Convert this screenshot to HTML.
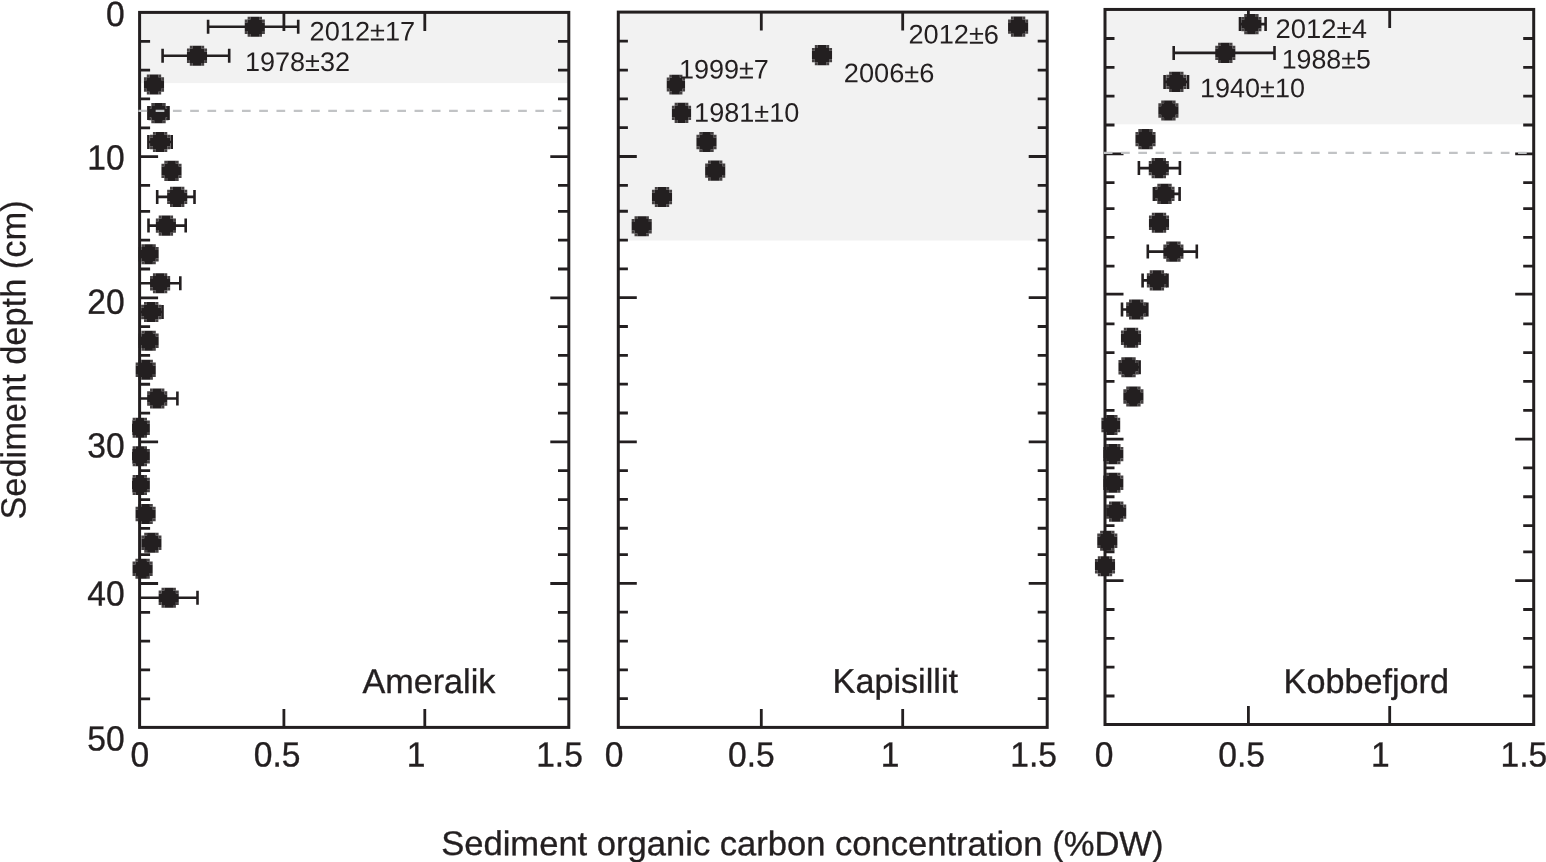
<!DOCTYPE html>
<html lang="en"><head><meta charset="utf-8">
<title>Sediment organic carbon concentration</title>
<style>
html,body{margin:0;padding:0;background:#fff;}
body{width:1546px;height:862px;overflow:hidden;}
svg{display:block;}
text{font-family:"Liberation Sans",Arial,Helvetica,sans-serif;fill:#231f20;}
.ax{font-size:35.0px;stroke:#231f20;stroke-width:0.35px;}
.nm{font-size:34.2px;stroke:#231f20;stroke-width:0.35px;}
.yt{font-size:35px;stroke:#231f20;stroke-width:0.2px;}
.an{font-size:26.8px;}
</style></head><body>
<svg width="1546" height="862" viewBox="0 0 1546 862">
<rect x="0" y="0" width="1546" height="862" fill="#fff"/>
<g>
<rect x="139.6" y="12.4" width="429.2" height="70.7" fill="#f2f2f2"/>
<path d="M247.62 16.65H250.49v2.87H247.62zM259.11 16.65H261.98v2.87H259.11zM244.75 19.52H247.62v2.87H244.75zM261.98 19.52H264.85v2.87H261.98zM244.75 31.01H247.62v2.87H244.75zM261.98 31.01H264.85v2.87H261.98zM247.62 33.88H250.49v2.87H247.62zM259.11 33.88H261.98v2.87H259.11zM189.82 45.65H192.69v2.87H189.82zM201.31 45.65H204.18v2.87H201.31zM186.95 48.52H189.82v2.87H186.95zM204.18 48.52H207.05v2.87H204.18zM186.95 60.01H189.82v2.87H186.95zM204.18 60.01H207.05v2.87H204.18zM189.82 62.88H192.69v2.87H189.82zM201.31 62.88H204.18v2.87H201.31zM146.82 74.45H149.69v2.87H146.82zM158.31 74.45H161.18v2.87H158.31zM143.95 77.32H146.82v2.87H143.95zM161.18 77.32H164.05v2.87H161.18zM143.95 88.81H146.82v2.87H143.95zM161.18 88.81H164.05v2.87H161.18zM146.82 91.68H149.69v2.87H146.82zM158.31 91.68H161.18v2.87H158.31zM151.32 103.05H154.19v2.87H151.32zM162.81 103.05H165.68v2.87H162.81zM148.45 105.92H151.32v2.87H148.45zM165.68 105.92H168.55v2.87H165.68zM148.45 117.41H151.32v2.87H148.45zM165.68 117.41H168.55v2.87H165.68zM151.32 120.28H154.19v2.87H151.32zM162.81 120.28H165.68v2.87H162.81zM152.92 131.95H155.79v2.87H152.92zM164.41 131.95H167.28v2.87H164.41zM150.05 134.82H152.92v2.87H150.05zM167.28 134.82H170.15v2.87H167.28zM150.05 146.31H152.92v2.87H150.05zM167.28 146.31H170.15v2.87H167.28zM152.92 149.18H155.79v2.87H152.92zM164.41 149.18H167.28v2.87H164.41zM164.32 160.85H167.19v2.87H164.32zM175.81 160.85H178.68v2.87H175.81zM161.45 163.72H164.32v2.87H161.45zM178.68 163.72H181.55v2.87H178.68zM161.45 175.21H164.32v2.87H161.45zM178.68 175.21H181.55v2.87H178.68zM164.32 178.08H167.19v2.87H164.32zM175.81 178.08H178.68v2.87H175.81zM170.02 186.85H172.89v2.87H170.02zM181.51 186.85H184.38v2.87H181.51zM167.15 189.72H170.02v2.87H167.15zM184.38 189.72H187.25v2.87H184.38zM167.15 201.21H170.02v2.87H167.15zM184.38 201.21H187.25v2.87H184.38zM170.02 204.08H172.89v2.87H170.02zM181.51 204.08H184.38v2.87H181.51zM158.72 215.55H161.59v2.87H158.72zM170.21 215.55H173.08v2.87H170.21zM155.85 218.42H158.72v2.87H155.85zM173.08 218.42H175.95v2.87H173.08zM155.85 229.91H158.72v2.87H155.85zM173.08 229.91H175.95v2.87H173.08zM158.72 232.78H161.59v2.87H158.72zM170.21 232.78H173.08v2.87H170.21zM141.42 244.25H144.29v2.87H141.42zM152.91 244.25H155.78v2.87H152.91zM138.55 247.12H141.42v2.87H138.55zM155.78 247.12H158.65v2.87H155.78zM138.55 258.61H141.42v2.87H138.55zM155.78 258.61H158.65v2.87H155.78zM141.42 261.48H144.29v2.87H141.42zM152.91 261.48H155.78v2.87H152.91zM152.92 273.25H155.79v2.87H152.92zM164.41 273.25H167.28v2.87H164.41zM150.05 276.12H152.92v2.87H150.05zM167.28 276.12H170.15v2.87H167.28zM150.05 287.61H152.92v2.87H150.05zM167.28 287.61H170.15v2.87H167.28zM152.92 290.48H155.79v2.87H152.92zM164.41 290.48H167.28v2.87H164.41zM144.02 301.95H146.89v2.87H144.02zM155.51 301.95H158.38v2.87H155.51zM141.15 304.82H144.02v2.87H141.15zM158.38 304.82H161.25v2.87H158.38zM141.15 316.31H144.02v2.87H141.15zM158.38 316.31H161.25v2.87H158.38zM144.02 319.18H146.89v2.87H144.02zM155.51 319.18H158.38v2.87H155.51zM141.42 330.75H144.29v2.87H141.42zM152.91 330.75H155.78v2.87H152.91zM138.55 333.62H141.42v2.87H138.55zM155.78 333.62H158.65v2.87H155.78zM138.55 345.11H141.42v2.87H138.55zM155.78 345.11H158.65v2.87H155.78zM141.42 347.98H144.29v2.87H141.42zM152.91 347.98H155.78v2.87H152.91zM138.52 359.65H141.39v2.87H138.52zM150.01 359.65H152.88v2.87H150.01zM135.65 362.52H138.52v2.87H135.65zM152.88 362.52H155.75v2.87H152.88zM135.65 374.01H138.52v2.87H135.65zM152.88 374.01H155.75v2.87H152.88zM138.52 376.88H141.39v2.87H138.52zM150.01 376.88H152.88v2.87H150.01zM150.02 388.45H152.89v2.87H150.02zM161.51 388.45H164.38v2.87H161.51zM147.15 391.32H150.02v2.87H147.15zM164.38 391.32H167.25v2.87H164.38zM147.15 402.81H150.02v2.87H147.15zM164.38 402.81H167.25v2.87H164.38zM150.02 405.68H152.89v2.87H150.02zM161.51 405.68H164.38v2.87H161.51zM132.62 417.75H135.49v2.87H132.62zM144.11 417.75H146.98v2.87H144.11zM132 420.62H132.62v2.87H132zM146.98 420.62H149.85v2.87H146.98zM132 432.11H132.62v2.87H132zM146.98 432.11H149.85v2.87H146.98zM132.62 434.98H135.49v2.87H132.62zM144.11 434.98H146.98v2.87H144.11zM132.62 446.25H135.49v2.87H132.62zM144.11 446.25H146.98v2.87H144.11zM132 449.12H132.62v2.87H132zM146.98 449.12H149.85v2.87H146.98zM132 460.61H132.62v2.87H132zM146.98 460.61H149.85v2.87H146.98zM132.62 463.48H135.49v2.87H132.62zM144.11 463.48H146.98v2.87H144.11zM132.62 474.95H135.49v2.87H132.62zM144.11 474.95H146.98v2.87H144.11zM132 477.82H132.62v2.87H132zM146.98 477.82H149.85v2.87H146.98zM132 489.31H132.62v2.87H132zM146.98 489.31H149.85v2.87H146.98zM132.62 492.18H135.49v2.87H132.62zM144.11 492.18H146.98v2.87H144.11zM138.42 503.95H141.29v2.87H138.42zM149.91 503.95H152.78v2.87H149.91zM135.55 506.82H138.42v2.87H135.55zM152.78 506.82H155.65v2.87H152.78zM135.55 518.31H138.42v2.87H135.55zM152.78 518.31H155.65v2.87H152.78zM138.42 521.18H141.29v2.87H138.42zM149.91 521.18H152.78v2.87H149.91zM144.22 532.65H147.09v2.87H144.22zM155.71 532.65H158.58v2.87H155.71zM141.35 535.52H144.22v2.87H141.35zM158.58 535.52H161.45v2.87H158.58zM141.35 547.01H144.22v2.87H141.35zM158.58 547.01H161.45v2.87H158.58zM144.22 549.88H147.09v2.87H144.22zM155.71 549.88H158.58v2.87H155.71zM135.42 558.75H138.29v2.87H135.42zM146.91 558.75H149.78v2.87H146.91zM132.55 561.62H135.42v2.87H132.55zM149.78 561.62H152.65v2.87H149.78zM132.55 573.11H135.42v2.87H132.55zM149.78 573.11H152.65v2.87H149.78zM135.42 575.98H138.29v2.87H135.42zM146.91 575.98H149.78v2.87H146.91zM161.52 587.75H164.39v2.87H161.52zM173.01 587.75H175.88v2.87H173.01zM158.65 590.62H161.52v2.87H158.65zM175.88 590.62H178.75v2.87H175.88zM158.65 602.11H161.52v2.87H158.65zM175.88 602.11H178.75v2.87H175.88zM161.52 604.98H164.39v2.87H161.52zM173.01 604.98H175.88v2.87H173.01z" fill="#454142"/>
<path d="M139.6 41.32h10.5M568.8 41.32h-10.8M139.6 70.14h10.5M568.8 70.14h-10.8M139.6 98.96h10.5M568.8 98.96h-10.8M139.6 127.78h10.5M568.8 127.78h-10.8M139.6 156.6h18.5M568.8 156.6h-18.5M139.6 185.42h10.5M568.8 185.42h-10.8M139.6 211.34h10.5M568.8 211.34h-10.8M139.6 240.16h10.5M568.8 240.16h-10.8M139.6 268.98h10.5M568.8 268.98h-10.8M139.6 297.8h18.5M568.8 297.8h-18.5M139.6 326.62h10.5M568.8 326.62h-10.8M139.6 355.44h10.5M568.8 355.44h-10.8M139.6 384.26h10.5M568.8 384.26h-10.8M139.6 413.08h10.5M568.8 413.08h-10.8M139.6 441.9h18.5M568.8 441.9h-18.5M139.6 470.72h10.5M568.8 470.72h-10.8M139.6 499.54h10.5M568.8 499.54h-10.8M139.6 528.36h10.5M568.8 528.36h-10.8M139.6 554.68h10.5M568.8 554.68h-10.8M139.6 583.5h18.5M568.8 583.5h-18.5M139.6 612.32h10.5M568.8 612.32h-10.8M139.6 641.14h10.5M568.8 641.14h-10.8M139.6 669.96h10.5M568.8 669.96h-10.8M139.6 698.78h10.5M568.8 698.78h-10.8M283.9 12.4v18.5M283.9 727.4v-18.5M424.8 12.4v18.5M424.8 727.4v-18.5" fill="none" stroke="#231f20" stroke-width="2.8"/>
<rect x="139.6" y="12.4" width="429.2" height="715" fill="none" stroke="#231f20" stroke-width="3.0"/>
<path d="M208.1 26.7H298.2M208.1 19.7v14M298.2 19.7v14M162.6 55.7H229.2M162.6 48.7v14M229.2 48.7v14M148.4 113.1H168.5M148.4 106.1v14M168.5 106.1v14M148.4 142H171.7M148.4 135v14M171.7 135v14M157.2 196.9H194.5M157.2 189.9v14M194.5 189.9v14M148.5 225.6H185.7M148.5 218.6v14M185.7 218.6v14M141 283.3H180.3M180.3 276.3v14M141 312H162.5M162.5 305v14M141 398.5H177.4M177.4 391.5v14M141 597.8H197.5M197.5 590.8v14" fill="none" stroke="#231f20" stroke-width="2.6"/>
<path d="M250.49 16.65L259.11 16.65L259.11 19.52L261.98 19.52L261.98 22.39L264.85 22.39L264.85 31.01L261.98 31.01L261.98 33.88L259.11 33.88L259.11 36.75L250.49 36.75L250.49 33.88L247.62 33.88L247.62 31.01L244.75 31.01L244.75 22.39L247.62 22.39L247.62 19.52L250.49 19.52zM192.69 45.65L201.31 45.65L201.31 48.52L204.18 48.52L204.18 51.39L207.05 51.39L207.05 60.01L204.18 60.01L204.18 62.88L201.31 62.88L201.31 65.75L192.69 65.75L192.69 62.88L189.82 62.88L189.82 60.01L186.95 60.01L186.95 51.39L189.82 51.39L189.82 48.52L192.69 48.52zM149.69 74.45L158.31 74.45L158.31 77.32L161.18 77.32L161.18 80.19L164.05 80.19L164.05 88.81L161.18 88.81L161.18 91.68L158.31 91.68L158.31 94.55L149.69 94.55L149.69 91.68L146.82 91.68L146.82 88.81L143.95 88.81L143.95 80.19L146.82 80.19L146.82 77.32L149.69 77.32zM154.19 103.05L162.81 103.05L162.81 105.92L165.68 105.92L165.68 108.79L168.55 108.79L168.55 117.41L165.68 117.41L165.68 120.28L162.81 120.28L162.81 123.15L154.19 123.15L154.19 120.28L151.32 120.28L151.32 117.41L148.45 117.41L148.45 108.79L151.32 108.79L151.32 105.92L154.19 105.92zM155.79 131.95L164.41 131.95L164.41 134.82L167.28 134.82L167.28 137.69L170.15 137.69L170.15 146.31L167.28 146.31L167.28 149.18L164.41 149.18L164.41 152.05L155.79 152.05L155.79 149.18L152.92 149.18L152.92 146.31L150.05 146.31L150.05 137.69L152.92 137.69L152.92 134.82L155.79 134.82zM167.19 160.85L175.81 160.85L175.81 163.72L178.68 163.72L178.68 166.59L181.55 166.59L181.55 175.21L178.68 175.21L178.68 178.08L175.81 178.08L175.81 180.95L167.19 180.95L167.19 178.08L164.32 178.08L164.32 175.21L161.45 175.21L161.45 166.59L164.32 166.59L164.32 163.72L167.19 163.72zM172.89 186.85L181.51 186.85L181.51 189.72L184.38 189.72L184.38 192.59L187.25 192.59L187.25 201.21L184.38 201.21L184.38 204.08L181.51 204.08L181.51 206.95L172.89 206.95L172.89 204.08L170.02 204.08L170.02 201.21L167.15 201.21L167.15 192.59L170.02 192.59L170.02 189.72L172.89 189.72zM161.59 215.55L170.21 215.55L170.21 218.42L173.08 218.42L173.08 221.29L175.95 221.29L175.95 229.91L173.08 229.91L173.08 232.78L170.21 232.78L170.21 235.65L161.59 235.65L161.59 232.78L158.72 232.78L158.72 229.91L155.85 229.91L155.85 221.29L158.72 221.29L158.72 218.42L161.59 218.42zM144.29 244.25L152.91 244.25L152.91 247.12L155.78 247.12L155.78 249.99L158.65 249.99L158.65 258.61L155.78 258.61L155.78 261.48L152.91 261.48L152.91 264.35L144.29 264.35L144.29 261.48L141.42 261.48L141.42 258.61L138.55 258.61L138.55 249.99L141.42 249.99L141.42 247.12L144.29 247.12zM155.79 273.25L164.41 273.25L164.41 276.12L167.28 276.12L167.28 278.99L170.15 278.99L170.15 287.61L167.28 287.61L167.28 290.48L164.41 290.48L164.41 293.35L155.79 293.35L155.79 290.48L152.92 290.48L152.92 287.61L150.05 287.61L150.05 278.99L152.92 278.99L152.92 276.12L155.79 276.12zM146.89 301.95L155.51 301.95L155.51 304.82L158.38 304.82L158.38 307.69L161.25 307.69L161.25 316.31L158.38 316.31L158.38 319.18L155.51 319.18L155.51 322.05L146.89 322.05L146.89 319.18L144.02 319.18L144.02 316.31L141.15 316.31L141.15 307.69L144.02 307.69L144.02 304.82L146.89 304.82zM144.29 330.75L152.91 330.75L152.91 333.62L155.78 333.62L155.78 336.49L158.65 336.49L158.65 345.11L155.78 345.11L155.78 347.98L152.91 347.98L152.91 350.85L144.29 350.85L144.29 347.98L141.42 347.98L141.42 345.11L138.55 345.11L138.55 336.49L141.42 336.49L141.42 333.62L144.29 333.62zM141.39 359.65L150.01 359.65L150.01 362.52L152.88 362.52L152.88 365.39L155.75 365.39L155.75 374.01L152.88 374.01L152.88 376.88L150.01 376.88L150.01 379.75L141.39 379.75L141.39 376.88L138.52 376.88L138.52 374.01L135.65 374.01L135.65 365.39L138.52 365.39L138.52 362.52L141.39 362.52zM152.89 388.45L161.51 388.45L161.51 391.32L164.38 391.32L164.38 394.19L167.25 394.19L167.25 402.81L164.38 402.81L164.38 405.68L161.51 405.68L161.51 408.55L152.89 408.55L152.89 405.68L150.02 405.68L150.02 402.81L147.15 402.81L147.15 394.19L150.02 394.19L150.02 391.32L152.89 391.32zM135.49 417.75L144.11 417.75L144.11 420.62L146.98 420.62L146.98 423.49L149.85 423.49L149.85 432.11L146.98 432.11L146.98 434.98L144.11 434.98L144.11 437.85L135.49 437.85L135.49 434.98L132.62 434.98L132.62 432.11L132 432.11L132 423.49L132.62 423.49L132.62 420.62L135.49 420.62zM135.49 446.25L144.11 446.25L144.11 449.12L146.98 449.12L146.98 451.99L149.85 451.99L149.85 460.61L146.98 460.61L146.98 463.48L144.11 463.48L144.11 466.35L135.49 466.35L135.49 463.48L132.62 463.48L132.62 460.61L132 460.61L132 451.99L132.62 451.99L132.62 449.12L135.49 449.12zM135.49 474.95L144.11 474.95L144.11 477.82L146.98 477.82L146.98 480.69L149.85 480.69L149.85 489.31L146.98 489.31L146.98 492.18L144.11 492.18L144.11 495.05L135.49 495.05L135.49 492.18L132.62 492.18L132.62 489.31L132 489.31L132 480.69L132.62 480.69L132.62 477.82L135.49 477.82zM141.29 503.95L149.91 503.95L149.91 506.82L152.78 506.82L152.78 509.69L155.65 509.69L155.65 518.31L152.78 518.31L152.78 521.18L149.91 521.18L149.91 524.05L141.29 524.05L141.29 521.18L138.42 521.18L138.42 518.31L135.55 518.31L135.55 509.69L138.42 509.69L138.42 506.82L141.29 506.82zM147.09 532.65L155.71 532.65L155.71 535.52L158.58 535.52L158.58 538.39L161.45 538.39L161.45 547.01L158.58 547.01L158.58 549.88L155.71 549.88L155.71 552.75L147.09 552.75L147.09 549.88L144.22 549.88L144.22 547.01L141.35 547.01L141.35 538.39L144.22 538.39L144.22 535.52L147.09 535.52zM138.29 558.75L146.91 558.75L146.91 561.62L149.78 561.62L149.78 564.49L152.65 564.49L152.65 573.11L149.78 573.11L149.78 575.98L146.91 575.98L146.91 578.85L138.29 578.85L138.29 575.98L135.42 575.98L135.42 573.11L132.55 573.11L132.55 564.49L135.42 564.49L135.42 561.62L138.29 561.62zM164.39 587.75L173.01 587.75L173.01 590.62L175.88 590.62L175.88 593.49L178.75 593.49L178.75 602.11L175.88 602.11L175.88 604.98L173.01 604.98L173.01 607.85L164.39 607.85L164.39 604.98L161.52 604.98L161.52 602.11L158.65 602.11L158.65 593.49L161.52 593.49L161.52 590.62L164.39 590.62z" fill="#231f20"/>
<line x1="138.4" y1="110.95" x2="567.3" y2="110.95" stroke="#c1c3c5" stroke-width="2.2" stroke-dasharray="8.7 8.56"/>
</g>
<g>
<rect x="618.3" y="12.1" width="428.9" height="228.4" fill="#f2f2f2"/>
<path d="M1010.92 16.55H1013.79v2.87H1010.92zM1022.41 16.55H1025.28v2.87H1022.41zM1008.05 19.42H1010.92v2.87H1008.05zM1025.28 19.42H1028.15v2.87H1025.28zM1008.05 30.91H1010.92v2.87H1008.05zM1025.28 30.91H1028.15v2.87H1025.28zM1010.92 33.78H1013.79v2.87H1010.92zM1022.41 33.78H1025.28v2.87H1022.41zM814.82 45.05H817.69v2.87H814.82zM826.31 45.05H829.18v2.87H826.31zM811.95 47.92H814.82v2.87H811.95zM829.18 47.92H832.05v2.87H829.18zM811.95 59.41H814.82v2.87H811.95zM829.18 59.41H832.05v2.87H829.18zM814.82 62.28H817.69v2.87H814.82zM826.31 62.28H829.18v2.87H826.31zM669.36 74.8H671.98v2.8H669.36zM679.82 74.8H682.44v2.8H679.82zM666.75 77.6H669.36v2.8H666.75zM682.44 77.6H685.05v2.8H682.44zM666.75 88.8H669.36v2.8H666.75zM682.44 88.8H685.05v2.8H682.44zM669.36 91.6H671.98v2.8H669.36zM679.82 91.6H682.44v2.8H679.82zM674.64 102.8H677.39v2.87H674.64zM685.61 102.8H688.36v2.87H685.61zM671.9 105.67H674.64v2.87H671.9zM688.36 105.67H691.1v2.87H688.36zM671.9 117.16H674.64v2.87H671.9zM688.36 117.16H691.1v2.87H688.36zM674.64 120.03H677.39v2.87H674.64zM685.61 120.03H688.36v2.87H685.61zM699.32 131.95H702.19v2.87H699.32zM710.81 131.95H713.68v2.87H710.81zM696.45 134.82H699.32v2.87H696.45zM713.68 134.82H716.55v2.87H713.68zM696.45 146.31H699.32v2.87H696.45zM713.68 146.31H716.55v2.87H713.68zM699.32 149.18H702.19v2.87H699.32zM710.81 149.18H713.68v2.87H710.81zM708.02 160.55H710.89v2.87H708.02zM719.51 160.55H722.38v2.87H719.51zM705.15 163.42H708.02v2.87H705.15zM722.38 163.42H725.25v2.87H722.38zM705.15 174.91H708.02v2.87H705.15zM722.38 174.91H725.25v2.87H722.38zM708.02 177.78H710.89v2.87H708.02zM719.51 177.78H722.38v2.87H719.51zM654.82 186.95H657.69v2.87H654.82zM666.31 186.95H669.18v2.87H666.31zM651.95 189.82H654.82v2.87H651.95zM669.18 189.82H672.05v2.87H669.18zM651.95 201.31H654.82v2.87H651.95zM669.18 201.31H672.05v2.87H669.18zM654.82 204.18H657.69v2.87H654.82zM666.31 204.18H669.18v2.87H666.31zM634.52 216.15H637.39v2.87H634.52zM646.01 216.15H648.88v2.87H646.01zM631.65 219.02H634.52v2.87H631.65zM648.88 219.02H651.75v2.87H648.88zM631.65 230.51H634.52v2.87H631.65zM648.88 230.51H651.75v2.87H648.88zM634.52 233.38H637.39v2.87H634.52zM646.01 233.38H648.88v2.87H646.01z" fill="#454142"/>
<path d="M618.3 41.22h9.6M1047.2 41.22h-9.5M618.3 70.04h9.6M1047.2 70.04h-9.5M618.3 98.86h9.6M1047.2 98.86h-9.5M618.3 127.68h9.6M1047.2 127.68h-9.5M618.3 156.5h18.5M1047.2 156.5h-18.5M618.3 185.32h9.6M1047.2 185.32h-9.5M618.3 211.24h9.6M1047.2 211.24h-9.5M618.3 240.06h9.6M1047.2 240.06h-9.5M618.3 268.88h9.6M1047.2 268.88h-9.5M618.3 297.7h18.5M1047.2 297.7h-18.5M618.3 326.52h9.6M1047.2 326.52h-9.5M618.3 355.34h9.6M1047.2 355.34h-9.5M618.3 384.16h9.6M1047.2 384.16h-9.5M618.3 412.98h9.6M1047.2 412.98h-9.5M618.3 441.8h18.5M1047.2 441.8h-18.5M618.3 470.62h9.6M1047.2 470.62h-9.5M618.3 499.44h9.6M1047.2 499.44h-9.5M618.3 528.26h9.6M1047.2 528.26h-9.5M618.3 554.58h9.6M1047.2 554.58h-9.5M618.3 583.4h18.5M1047.2 583.4h-18.5M618.3 612.22h9.6M1047.2 612.22h-9.5M618.3 641.04h9.6M1047.2 641.04h-9.5M618.3 669.86h9.6M1047.2 669.86h-9.5M618.3 698.68h9.6M1047.2 698.68h-9.5M761.3 12.1v18.5M761.3 727.4v-18.5M902.7 12.1v18.5M902.7 727.4v-18.5" fill="none" stroke="#231f20" stroke-width="2.8"/>
<rect x="618.3" y="12.1" width="428.9" height="715.3" fill="none" stroke="#231f20" stroke-width="3.0"/>
<path d="M1013.79 16.55L1022.41 16.55L1022.41 19.42L1025.28 19.42L1025.28 22.29L1028.15 22.29L1028.15 30.91L1025.28 30.91L1025.28 33.78L1022.41 33.78L1022.41 36.65L1013.79 36.65L1013.79 33.78L1010.92 33.78L1010.92 30.91L1008.05 30.91L1008.05 22.29L1010.92 22.29L1010.92 19.42L1013.79 19.42zM817.69 45.05L826.31 45.05L826.31 47.92L829.18 47.92L829.18 50.79L832.05 50.79L832.05 59.41L829.18 59.41L829.18 62.28L826.31 62.28L826.31 65.15L817.69 65.15L817.69 62.28L814.82 62.28L814.82 59.41L811.95 59.41L811.95 50.79L814.82 50.79L814.82 47.92L817.69 47.92zM671.98 74.8L679.82 74.8L679.82 77.6L682.44 77.6L682.44 80.4L685.05 80.4L685.05 88.8L682.44 88.8L682.44 91.6L679.82 91.6L679.82 94.4L671.98 94.4L671.98 91.6L669.36 91.6L669.36 88.8L666.75 88.8L666.75 80.4L669.36 80.4L669.36 77.6L671.98 77.6zM677.39 102.8L685.61 102.8L685.61 105.67L688.36 105.67L688.36 108.54L691.1 108.54L691.1 117.16L688.36 117.16L688.36 120.03L685.61 120.03L685.61 122.9L677.39 122.9L677.39 120.03L674.64 120.03L674.64 117.16L671.9 117.16L671.9 108.54L674.64 108.54L674.64 105.67L677.39 105.67zM702.19 131.95L710.81 131.95L710.81 134.82L713.68 134.82L713.68 137.69L716.55 137.69L716.55 146.31L713.68 146.31L713.68 149.18L710.81 149.18L710.81 152.05L702.19 152.05L702.19 149.18L699.32 149.18L699.32 146.31L696.45 146.31L696.45 137.69L699.32 137.69L699.32 134.82L702.19 134.82zM710.89 160.55L719.51 160.55L719.51 163.42L722.38 163.42L722.38 166.29L725.25 166.29L725.25 174.91L722.38 174.91L722.38 177.78L719.51 177.78L719.51 180.65L710.89 180.65L710.89 177.78L708.02 177.78L708.02 174.91L705.15 174.91L705.15 166.29L708.02 166.29L708.02 163.42L710.89 163.42zM657.69 186.95L666.31 186.95L666.31 189.82L669.18 189.82L669.18 192.69L672.05 192.69L672.05 201.31L669.18 201.31L669.18 204.18L666.31 204.18L666.31 207.05L657.69 207.05L657.69 204.18L654.82 204.18L654.82 201.31L651.95 201.31L651.95 192.69L654.82 192.69L654.82 189.82L657.69 189.82zM637.39 216.15L646.01 216.15L646.01 219.02L648.88 219.02L648.88 221.89L651.75 221.89L651.75 230.51L648.88 230.51L648.88 233.38L646.01 233.38L646.01 236.25L637.39 236.25L637.39 233.38L634.52 233.38L634.52 230.51L631.65 230.51L631.65 221.89L634.52 221.89L634.52 219.02L637.39 219.02z" fill="#231f20"/>
</g>
<g>
<rect x="1105" y="9.45" width="428.7" height="114.85" fill="#f2f2f2"/>
<path d="M1244.22 14.05H1247.09v2.87H1244.22zM1255.71 14.05H1258.58v2.87H1255.71zM1241.35 16.92H1244.22v2.87H1241.35zM1258.58 16.92H1261.45v2.87H1258.58zM1241.35 28.41H1244.22v2.87H1241.35zM1258.58 28.41H1261.45v2.87H1258.58zM1244.22 31.28H1247.09v2.87H1244.22zM1255.71 31.28H1258.58v2.87H1255.71zM1218.12 42.85H1220.99v2.87H1218.12zM1229.61 42.85H1232.48v2.87H1229.61zM1215.25 45.72H1218.12v2.87H1215.25zM1232.48 45.72H1235.35v2.87H1232.48zM1215.25 57.21H1218.12v2.87H1215.25zM1232.48 57.21H1235.35v2.87H1232.48zM1218.12 60.08H1220.99v2.87H1218.12zM1229.61 60.08H1232.48v2.87H1229.61zM1169.12 71.85H1171.99v2.87H1169.12zM1180.61 71.85H1183.48v2.87H1180.61zM1166.25 74.72H1169.12v2.87H1166.25zM1183.48 74.72H1186.35v2.87H1183.48zM1166.25 86.21H1169.12v2.87H1166.25zM1183.48 86.21H1186.35v2.87H1183.48zM1169.12 89.08H1171.99v2.87H1169.12zM1180.61 89.08H1183.48v2.87H1180.61zM1161.22 100.45H1164.09v2.87H1161.22zM1172.71 100.45H1175.58v2.87H1172.71zM1158.35 103.32H1161.22v2.87H1158.35zM1175.58 103.32H1178.45v2.87H1175.58zM1158.35 114.81H1161.22v2.87H1158.35zM1175.58 114.81H1178.45v2.87H1175.58zM1161.22 117.68H1164.09v2.87H1161.22zM1172.71 117.68H1175.58v2.87H1172.71zM1138.32 129.05H1141.19v2.87H1138.32zM1149.81 129.05H1152.68v2.87H1149.81zM1135.45 131.92H1138.32v2.87H1135.45zM1152.68 131.92H1155.55v2.87H1152.68zM1135.45 143.41H1138.32v2.87H1135.45zM1152.68 143.41H1155.55v2.87H1152.68zM1138.32 146.28H1141.19v2.87H1138.32zM1149.81 146.28H1152.68v2.87H1149.81zM1151.62 158.05H1154.49v2.87H1151.62zM1163.11 158.05H1165.98v2.87H1163.11zM1148.75 160.92H1151.62v2.87H1148.75zM1165.98 160.92H1168.85v2.87H1165.98zM1148.75 172.41H1151.62v2.87H1148.75zM1165.98 172.41H1168.85v2.87H1165.98zM1151.62 175.28H1154.49v2.87H1151.62zM1163.11 175.28H1165.98v2.87H1163.11zM1157.32 183.85H1160.19v2.87H1157.32zM1168.81 183.85H1171.68v2.87H1168.81zM1154.45 186.72H1157.32v2.87H1154.45zM1171.68 186.72H1174.55v2.87H1171.68zM1154.45 198.21H1157.32v2.87H1154.45zM1171.68 198.21H1174.55v2.87H1171.68zM1157.32 201.08H1160.19v2.87H1157.32zM1168.81 201.08H1171.68v2.87H1168.81zM1151.82 212.65H1154.69v2.87H1151.82zM1163.31 212.65H1166.18v2.87H1163.31zM1148.95 215.52H1151.82v2.87H1148.95zM1166.18 215.52H1169.05v2.87H1166.18zM1148.95 227.01H1151.82v2.87H1148.95zM1166.18 227.01H1169.05v2.87H1166.18zM1151.82 229.88H1154.69v2.87H1151.82zM1163.31 229.88H1166.18v2.87H1163.31zM1166.22 241.55H1169.09v2.87H1166.22zM1177.71 241.55H1180.58v2.87H1177.71zM1163.35 244.42H1166.22v2.87H1163.35zM1180.58 244.42H1183.45v2.87H1180.58zM1163.35 255.91H1166.22v2.87H1163.35zM1180.58 255.91H1183.45v2.87H1180.58zM1166.22 258.78H1169.09v2.87H1166.22zM1177.71 258.78H1180.58v2.87H1177.71zM1149.72 270.35H1152.59v2.87H1149.72zM1161.21 270.35H1164.08v2.87H1161.21zM1146.85 273.22H1149.72v2.87H1146.85zM1164.08 273.22H1166.95v2.87H1164.08zM1146.85 284.71H1149.72v2.87H1146.85zM1164.08 284.71H1166.95v2.87H1164.08zM1149.72 287.58H1152.59v2.87H1149.72zM1161.21 287.58H1164.08v2.87H1161.21zM1129.02 299.45H1131.89v2.87H1129.02zM1140.51 299.45H1143.38v2.87H1140.51zM1126.15 302.32H1129.02v2.87H1126.15zM1143.38 302.32H1146.25v2.87H1143.38zM1126.15 313.81H1129.02v2.87H1126.15zM1143.38 313.81H1146.25v2.87H1143.38zM1129.02 316.68H1131.89v2.87H1129.02zM1140.51 316.68H1143.38v2.87H1140.51zM1123.82 327.75H1126.69v2.87H1123.82zM1135.31 327.75H1138.18v2.87H1135.31zM1120.95 330.62H1123.82v2.87H1120.95zM1138.18 330.62H1141.05v2.87H1138.18zM1120.95 342.11H1123.82v2.87H1120.95zM1138.18 342.11H1141.05v2.87H1138.18zM1123.82 344.98H1126.69v2.87H1123.82zM1135.31 344.98H1138.18v2.87H1135.31zM1121.32 357.25H1124.19v2.87H1121.32zM1132.81 357.25H1135.68v2.87H1132.81zM1118.45 360.12H1121.32v2.87H1118.45zM1135.68 360.12H1138.55v2.87H1135.68zM1118.45 371.61H1121.32v2.87H1118.45zM1135.68 371.61H1138.55v2.87H1135.68zM1121.32 374.48H1124.19v2.87H1121.32zM1132.81 374.48H1135.68v2.87H1132.81zM1126.22 386.45H1129.09v2.87H1126.22zM1137.71 386.45H1140.58v2.87H1137.71zM1123.35 389.32H1126.22v2.87H1123.35zM1140.58 389.32H1143.45v2.87H1140.58zM1123.35 400.81H1126.22v2.87H1123.35zM1140.58 400.81H1143.45v2.87H1140.58zM1126.22 403.68H1129.09v2.87H1126.22zM1137.71 403.68H1140.58v2.87H1137.71zM1104.09 414.95H1106.77v2.87H1104.09zM1114.83 414.95H1117.51v2.87H1114.83zM1101.4 417.82H1104.09v2.87H1101.4zM1117.51 417.82H1120.2v2.87H1117.51zM1101.4 429.31H1104.09v2.87H1101.4zM1117.51 429.31H1120.2v2.87H1117.51zM1104.09 432.18H1106.77v2.87H1104.09zM1114.83 432.18H1117.51v2.87H1114.83zM1106.12 444.05H1108.99v2.87H1106.12zM1117.61 444.05H1120.48v2.87H1117.61zM1103.25 446.92H1106.12v2.87H1103.25zM1120.48 446.92H1123.35v2.87H1120.48zM1103.25 458.41H1106.12v2.87H1103.25zM1120.48 458.41H1123.35v2.87H1120.48zM1106.12 461.28H1108.99v2.87H1106.12zM1117.61 461.28H1120.48v2.87H1117.61zM1106.12 472.75H1108.99v2.87H1106.12zM1117.61 472.75H1120.48v2.87H1117.61zM1103.25 475.62H1106.12v2.87H1103.25zM1120.48 475.62H1123.35v2.87H1120.48zM1103.25 487.11H1106.12v2.87H1103.25zM1120.48 487.11H1123.35v2.87H1120.48zM1106.12 489.98H1108.99v2.87H1106.12zM1117.61 489.98H1120.48v2.87H1117.61zM1109.02 501.55H1111.89v2.87H1109.02zM1120.51 501.55H1123.38v2.87H1120.51zM1106.15 504.42H1109.02v2.87H1106.15zM1123.38 504.42H1126.25v2.87H1123.38zM1106.15 515.91H1109.02v2.87H1106.15zM1123.38 515.91H1126.25v2.87H1123.38zM1109.02 518.78H1111.89v2.87H1109.02zM1120.51 518.78H1123.38v2.87H1120.51zM1100.12 530.65H1102.99v2.87H1100.12zM1111.61 530.65H1114.48v2.87H1111.61zM1097.25 533.52H1100.12v2.87H1097.25zM1114.48 533.52H1117.35v2.87H1114.48zM1097.25 545.01H1100.12v2.87H1097.25zM1114.48 545.01H1117.35v2.87H1114.48zM1100.12 547.88H1102.99v2.87H1100.12zM1111.61 547.88H1114.48v2.87H1111.61zM1097.82 556.15H1100.69v2.87H1097.82zM1109.31 556.15H1112.18v2.87H1109.31zM1094.95 559.02H1097.82v2.87H1094.95zM1112.18 559.02H1115.05v2.87H1112.18zM1094.95 570.51H1097.82v2.87H1094.95zM1112.18 570.51H1115.05v2.87H1112.18zM1097.82 573.38H1100.69v2.87H1097.82zM1109.31 573.38H1112.18v2.87H1109.31z" fill="#454142"/>
<path d="M1105 38.52h9.5M1533.7 38.52h-10.5M1105 67.34h9.5M1533.7 67.34h-10.5M1105 96.16h9.5M1533.7 96.16h-10.5M1105 124.98h9.5M1533.7 124.98h-10.5M1105 153.8h18.5M1533.7 153.8h-18.5M1105 182.62h9.5M1533.7 182.62h-10.5M1105 208.54h9.5M1533.7 208.54h-10.5M1105 237.36h9.5M1533.7 237.36h-10.5M1105 266.18h9.5M1533.7 266.18h-10.5M1105 294.1h18.5M1533.7 294.1h-18.5M1105 323.82h9.5M1533.7 323.82h-10.5M1105 352.64h9.5M1533.7 352.64h-10.5M1105 381.46h9.5M1533.7 381.46h-10.5M1105 410.28h9.5M1533.7 410.28h-10.5M1105 439.1h18.5M1533.7 439.1h-18.5M1105 467.92h9.5M1533.7 467.92h-10.5M1105 496.74h9.5M1533.7 496.74h-10.5M1105 525.56h9.5M1533.7 525.56h-10.5M1105 551.88h9.5M1533.7 551.88h-10.5M1105 580.7h18.5M1533.7 580.7h-18.5M1105 609.52h9.5M1533.7 609.52h-10.5M1105 638.34h9.5M1533.7 638.34h-10.5M1105 667.16h9.5M1533.7 667.16h-10.5M1105 695.98h9.5M1533.7 695.98h-10.5M1248.4 9.45v18.5M1248.4 724.5v-18.5M1389.7 9.45v18.5M1389.7 724.5v-18.5" fill="none" stroke="#231f20" stroke-width="2.8"/>
<rect x="1105" y="9.45" width="428.7" height="715.05" fill="none" stroke="#231f20" stroke-width="3.0"/>
<path d="M1240 24.1H1265.6M1240 17.1v14M1265.6 17.1v14M1173.7 52.9H1274.5M1173.7 45.9v14M1274.5 45.9v14M1164.6 81.9H1188M1164.6 74.9v14M1188 74.9v14M1138.9 168.1H1179.9M1138.9 161.1v14M1179.9 161.1v14M1153.9 193.9H1179.6M1153.9 186.9v14M1179.6 186.9v14M1147.8 251.6H1196.8M1147.8 244.6v14M1196.8 244.6v14M1142.6 280.4H1167.5M1142.6 273.4v14M1167.5 273.4v14M1122 309.5H1147.3M1122 302.5v14M1147.3 302.5v14M1128.5 367.3H1139.6M1128.5 360.3v14M1139.6 360.3v14" fill="none" stroke="#231f20" stroke-width="2.6"/>
<path d="M1247.09 14.05L1255.71 14.05L1255.71 16.92L1258.58 16.92L1258.58 19.79L1261.45 19.79L1261.45 28.41L1258.58 28.41L1258.58 31.28L1255.71 31.28L1255.71 34.15L1247.09 34.15L1247.09 31.28L1244.22 31.28L1244.22 28.41L1241.35 28.41L1241.35 19.79L1244.22 19.79L1244.22 16.92L1247.09 16.92zM1220.99 42.85L1229.61 42.85L1229.61 45.72L1232.48 45.72L1232.48 48.59L1235.35 48.59L1235.35 57.21L1232.48 57.21L1232.48 60.08L1229.61 60.08L1229.61 62.95L1220.99 62.95L1220.99 60.08L1218.12 60.08L1218.12 57.21L1215.25 57.21L1215.25 48.59L1218.12 48.59L1218.12 45.72L1220.99 45.72zM1171.99 71.85L1180.61 71.85L1180.61 74.72L1183.48 74.72L1183.48 77.59L1186.35 77.59L1186.35 86.21L1183.48 86.21L1183.48 89.08L1180.61 89.08L1180.61 91.95L1171.99 91.95L1171.99 89.08L1169.12 89.08L1169.12 86.21L1166.25 86.21L1166.25 77.59L1169.12 77.59L1169.12 74.72L1171.99 74.72zM1164.09 100.45L1172.71 100.45L1172.71 103.32L1175.58 103.32L1175.58 106.19L1178.45 106.19L1178.45 114.81L1175.58 114.81L1175.58 117.68L1172.71 117.68L1172.71 120.55L1164.09 120.55L1164.09 117.68L1161.22 117.68L1161.22 114.81L1158.35 114.81L1158.35 106.19L1161.22 106.19L1161.22 103.32L1164.09 103.32zM1141.19 129.05L1149.81 129.05L1149.81 131.92L1152.68 131.92L1152.68 134.79L1155.55 134.79L1155.55 143.41L1152.68 143.41L1152.68 146.28L1149.81 146.28L1149.81 149.15L1141.19 149.15L1141.19 146.28L1138.32 146.28L1138.32 143.41L1135.45 143.41L1135.45 134.79L1138.32 134.79L1138.32 131.92L1141.19 131.92zM1154.49 158.05L1163.11 158.05L1163.11 160.92L1165.98 160.92L1165.98 163.79L1168.85 163.79L1168.85 172.41L1165.98 172.41L1165.98 175.28L1163.11 175.28L1163.11 178.15L1154.49 178.15L1154.49 175.28L1151.62 175.28L1151.62 172.41L1148.75 172.41L1148.75 163.79L1151.62 163.79L1151.62 160.92L1154.49 160.92zM1160.19 183.85L1168.81 183.85L1168.81 186.72L1171.68 186.72L1171.68 189.59L1174.55 189.59L1174.55 198.21L1171.68 198.21L1171.68 201.08L1168.81 201.08L1168.81 203.95L1160.19 203.95L1160.19 201.08L1157.32 201.08L1157.32 198.21L1154.45 198.21L1154.45 189.59L1157.32 189.59L1157.32 186.72L1160.19 186.72zM1154.69 212.65L1163.31 212.65L1163.31 215.52L1166.18 215.52L1166.18 218.39L1169.05 218.39L1169.05 227.01L1166.18 227.01L1166.18 229.88L1163.31 229.88L1163.31 232.75L1154.69 232.75L1154.69 229.88L1151.82 229.88L1151.82 227.01L1148.95 227.01L1148.95 218.39L1151.82 218.39L1151.82 215.52L1154.69 215.52zM1169.09 241.55L1177.71 241.55L1177.71 244.42L1180.58 244.42L1180.58 247.29L1183.45 247.29L1183.45 255.91L1180.58 255.91L1180.58 258.78L1177.71 258.78L1177.71 261.65L1169.09 261.65L1169.09 258.78L1166.22 258.78L1166.22 255.91L1163.35 255.91L1163.35 247.29L1166.22 247.29L1166.22 244.42L1169.09 244.42zM1152.59 270.35L1161.21 270.35L1161.21 273.22L1164.08 273.22L1164.08 276.09L1166.95 276.09L1166.95 284.71L1164.08 284.71L1164.08 287.58L1161.21 287.58L1161.21 290.45L1152.59 290.45L1152.59 287.58L1149.72 287.58L1149.72 284.71L1146.85 284.71L1146.85 276.09L1149.72 276.09L1149.72 273.22L1152.59 273.22zM1131.89 299.45L1140.51 299.45L1140.51 302.32L1143.38 302.32L1143.38 305.19L1146.25 305.19L1146.25 313.81L1143.38 313.81L1143.38 316.68L1140.51 316.68L1140.51 319.55L1131.89 319.55L1131.89 316.68L1129.02 316.68L1129.02 313.81L1126.15 313.81L1126.15 305.19L1129.02 305.19L1129.02 302.32L1131.89 302.32zM1126.69 327.75L1135.31 327.75L1135.31 330.62L1138.18 330.62L1138.18 333.49L1141.05 333.49L1141.05 342.11L1138.18 342.11L1138.18 344.98L1135.31 344.98L1135.31 347.85L1126.69 347.85L1126.69 344.98L1123.82 344.98L1123.82 342.11L1120.95 342.11L1120.95 333.49L1123.82 333.49L1123.82 330.62L1126.69 330.62zM1124.19 357.25L1132.81 357.25L1132.81 360.12L1135.68 360.12L1135.68 362.99L1138.55 362.99L1138.55 371.61L1135.68 371.61L1135.68 374.48L1132.81 374.48L1132.81 377.35L1124.19 377.35L1124.19 374.48L1121.32 374.48L1121.32 371.61L1118.45 371.61L1118.45 362.99L1121.32 362.99L1121.32 360.12L1124.19 360.12zM1129.09 386.45L1137.71 386.45L1137.71 389.32L1140.58 389.32L1140.58 392.19L1143.45 392.19L1143.45 400.81L1140.58 400.81L1140.58 403.68L1137.71 403.68L1137.71 406.55L1129.09 406.55L1129.09 403.68L1126.22 403.68L1126.22 400.81L1123.35 400.81L1123.35 392.19L1126.22 392.19L1126.22 389.32L1129.09 389.32zM1106.77 414.95L1114.83 414.95L1114.83 417.82L1117.51 417.82L1117.51 420.69L1120.2 420.69L1120.2 429.31L1117.51 429.31L1117.51 432.18L1114.83 432.18L1114.83 435.05L1106.77 435.05L1106.77 432.18L1104.09 432.18L1104.09 429.31L1101.4 429.31L1101.4 420.69L1104.09 420.69L1104.09 417.82L1106.77 417.82zM1108.99 444.05L1117.61 444.05L1117.61 446.92L1120.48 446.92L1120.48 449.79L1123.35 449.79L1123.35 458.41L1120.48 458.41L1120.48 461.28L1117.61 461.28L1117.61 464.15L1108.99 464.15L1108.99 461.28L1106.12 461.28L1106.12 458.41L1103.25 458.41L1103.25 449.79L1106.12 449.79L1106.12 446.92L1108.99 446.92zM1108.99 472.75L1117.61 472.75L1117.61 475.62L1120.48 475.62L1120.48 478.49L1123.35 478.49L1123.35 487.11L1120.48 487.11L1120.48 489.98L1117.61 489.98L1117.61 492.85L1108.99 492.85L1108.99 489.98L1106.12 489.98L1106.12 487.11L1103.25 487.11L1103.25 478.49L1106.12 478.49L1106.12 475.62L1108.99 475.62zM1111.89 501.55L1120.51 501.55L1120.51 504.42L1123.38 504.42L1123.38 507.29L1126.25 507.29L1126.25 515.91L1123.38 515.91L1123.38 518.78L1120.51 518.78L1120.51 521.65L1111.89 521.65L1111.89 518.78L1109.02 518.78L1109.02 515.91L1106.15 515.91L1106.15 507.29L1109.02 507.29L1109.02 504.42L1111.89 504.42zM1102.99 530.65L1111.61 530.65L1111.61 533.52L1114.48 533.52L1114.48 536.39L1117.35 536.39L1117.35 545.01L1114.48 545.01L1114.48 547.88L1111.61 547.88L1111.61 550.75L1102.99 550.75L1102.99 547.88L1100.12 547.88L1100.12 545.01L1097.25 545.01L1097.25 536.39L1100.12 536.39L1100.12 533.52L1102.99 533.52zM1100.69 556.15L1109.31 556.15L1109.31 559.02L1112.18 559.02L1112.18 561.89L1115.05 561.89L1115.05 570.51L1112.18 570.51L1112.18 573.38L1109.31 573.38L1109.31 576.25L1100.69 576.25L1100.69 573.38L1097.82 573.38L1097.82 570.51L1094.95 570.51L1094.95 561.89L1097.82 561.89L1097.82 559.02L1100.69 559.02z" fill="#231f20"/>
<line x1="1103.8" y1="152.9" x2="1532.2" y2="152.9" stroke="#c1c3c5" stroke-width="2.2" stroke-dasharray="8.7 8.56"/>
</g>
<text class="an" transform="translate(309.5 40.5) rotate(0.030) scale(1.0150 1)">2012±17</text>
<text class="an" transform="translate(245 71) rotate(0.030) scale(1.0089 1)">1978±32</text>
<text class="an" transform="translate(908.4 43.6) rotate(0.030) scale(1.0150 1)">2012±6</text>
<text class="an" transform="translate(843.8 82.3) rotate(0.030) scale(1.0150 1)">2006±6</text>
<text class="an" transform="translate(679 78.5) rotate(0.030) scale(1.0069 1)">1999±7</text>
<text class="an" transform="translate(694.1 121.7) rotate(0.030) scale(1.0099 1)">1981±10</text>
<text class="an" transform="translate(1275.6 37.9) rotate(0.030) scale(1.0231 1)">2012±4</text>
<text class="an" transform="translate(1281.7 68.5) rotate(0.030) scale(0.9988 1)">1988±5</text>
<text class="an" transform="translate(1200.1 97.2) rotate(0.030) scale(1.0069 1)">1940±10</text>
<text class="nm" transform="translate(362.4 692.9) rotate(0.030) scale(1.0000 1)">Ameralik</text>
<text class="nm" transform="translate(832.6 692.8) rotate(0.030) scale(1.0000 1)">Kapisillit</text>
<text class="nm" transform="translate(1283.6 692.9) rotate(0.030) scale(1.0000 1)">Kobbefjord</text>
<text class="ax" transform="translate(124.6 25.95) rotate(0.030) scale(0.9600 1)" text-anchor="end">0</text>
<text class="ax" transform="translate(124.6 169.55) rotate(0.030) scale(0.9600 1)" text-anchor="end">10</text>
<text class="ax" transform="translate(124.6 313.65) rotate(0.030) scale(0.9600 1)" text-anchor="end">20</text>
<text class="ax" transform="translate(124.6 457.45) rotate(0.030) scale(0.9600 1)" text-anchor="end">30</text>
<text class="ax" transform="translate(124.6 605.4) rotate(0.030) scale(0.9600 1)" text-anchor="end">40</text>
<text class="ax" transform="translate(124.6 750.5) rotate(0.030) scale(0.9600 1)" text-anchor="end">50</text>
<text class="ax" transform="translate(139.8 766.6) rotate(0.030) scale(0.9600 1)" text-anchor="middle">0</text>
<text class="ax" transform="translate(277.2 766.6) rotate(0.030) scale(0.9600 1)" text-anchor="middle">0.5</text>
<text class="ax" transform="translate(416 766.6) rotate(0.030) scale(0.9600 1)" text-anchor="middle">1</text>
<text class="ax" transform="translate(559.5 766.6) rotate(0.030) scale(0.9600 1)" text-anchor="middle">1.5</text>
<text class="ax" transform="translate(614 766.6) rotate(0.030) scale(0.9600 1)" text-anchor="middle">0</text>
<text class="ax" transform="translate(751.4 766.6) rotate(0.030) scale(0.9600 1)" text-anchor="middle">0.5</text>
<text class="ax" transform="translate(890.2 766.6) rotate(0.030) scale(0.9600 1)" text-anchor="middle">1</text>
<text class="ax" transform="translate(1033.7 766.6) rotate(0.030) scale(0.9600 1)" text-anchor="middle">1.5</text>
<text class="ax" transform="translate(1104.2 766.6) rotate(0.030) scale(0.9600 1)" text-anchor="middle">0</text>
<text class="ax" transform="translate(1241.6 766.6) rotate(0.030) scale(0.9600 1)" text-anchor="middle">0.5</text>
<text class="ax" transform="translate(1380.4 766.6) rotate(0.030) scale(0.9600 1)" text-anchor="middle">1</text>
<text class="ax" transform="translate(1523.9 766.6) rotate(0.030) scale(0.9600 1)" text-anchor="middle">1.5</text>
<text class="nm" transform="translate(441.2 855.1) rotate(0.030) scale(1.0109 1)">Sediment organic carbon concentration (%DW)</text>
<text class="yt" transform="translate(25.4 519.6) rotate(-89.970) scale(0.9830 1)">Sediment depth (cm)</text>
</svg>
</body></html>
